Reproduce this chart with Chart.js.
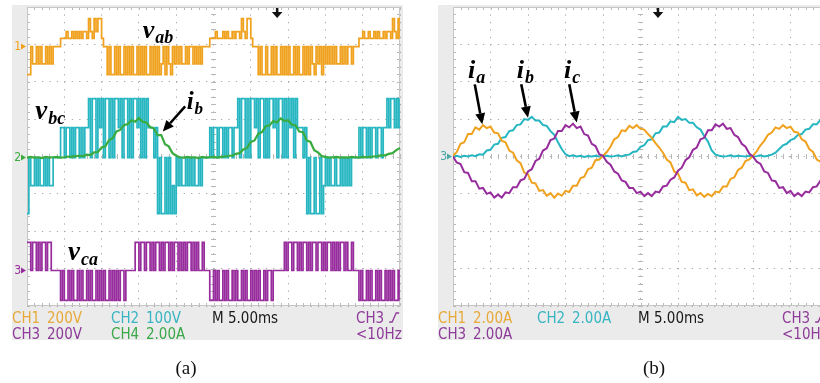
<!DOCTYPE html>
<html>
<head>
<meta charset="utf-8">
<script src="https://cdn.jsdelivr.net/npm/chart.js@4.4.1/dist/chart.umd.min.js"></script>
<style>
    html, body { margin: 0; padding: 0; background: #fff; overflow: hidden; }
    body { width: 820px; height: 383px; position: relative; }
    #scopeA { position: absolute; left: 0; top: 0; }
    #scopeB { position: absolute; left: 410px; top: 0; }
</style>
</head>
<body>
<canvas id="scopeA" width="410" height="383"></canvas>
<canvas id="scopeB" width="430" height="383"></canvas>
<script>
// time axis: 10 div x 5 ms, vertical: 8 div
const msPerDiv = 5;
const pwmStepMs = 0.25;
const traceStepMs = 0.5;

// (a) PWM line voltages, one level code per 0.25 ms sample
const vabCodes = [
    -2,-2,0,-1,-1,0,-1,0,-1,-1,0,-1,0,-1,0,0, 0,0,
    1,1,1,2,1,1,2,1,2,1,2,1,2,2,1,3,2,1,3,2,3,3,1, 0,0,
    -2,0,-2,-2,0,-2,0,-2,-2,0,-2,0,-2,0,-2,-2,0,-2,0,-2,0,-2,-2,0,-2,0,-2,0,-2,-1,0,-2,0,-1,-2,0,-1,
    0,-1,0,-1,-1,0,-1,0,0,-1,0,-1,0,-1,0,0, 0,0,
    1,1,1,2,1,1,1,2,1,2,1,1,2,1,2,2,1,3,2,1,3,3,1, 0,0,0,
    -2,0,-2,-2,0,-2,-2,0,-2,0,-2,-2,0,-2,0,-2,0,-2,-2,0,-2,0,-2,-2,0,-2,0,-2,0,-1,-2,0,-1,0,-2,0,-1,
    0,-1,0,-1,0,-1,-1,0,-1,0,-1,0,0,-1,0,0, 0,
    1,1,2,1,1,2,1,1,2,1,2,1,1,2,1,2,2,1,3,2,1,3,1
];
const vbcCodes = [
    -2,0,-1,-1,0,-1,0,-1,-1,0,-1,0,-1,-1,0,0, 0,0,
    1,1,0,1,1,0,1,0,1,1,0,1,0,1,1,
    2,0,2,2,0,2,1,2,0,2,2,0,2,0,2,2,1,2,0,2,2,0,2,0,2,2,1,2,0,2,0,2,1,1, 1,0,1,
    -2,0,-2,-2,0,-2,0,-2,-1,-2,0,
    -1,0,-1,-1,0,-1,0,-1,0,-1,-1,0,-1,0,0, 0,0,
    1,0,1,1,0,1,1,0,1,0,1,1,0,1,1,
    2,0,2,2,0,2,0,2,2,1,2,0,2,2,0,2,0,2,2,1,2,0,2,2,0,2,0,2,1,2,0,2,1,1, 1,0,1,
    -2,0,-2,-2,0,-2,-2,0,-2,-1,0,
    -1,0,-1,-1,0,-1,-1,0,-1,0,-1,0,-1,0,0, 0,0,
    1,0,1,1,0,1,0,1,1,0,1,1,0,1,1,
    2,1,2,2,1,2,1,2
];
const vcaCodes = [
    1,1,0,1,1,0,1,0,1,1,0,1,1,0,0,0, 0,0,
    -1,0,-1,-1,0,-1,0,-1,-1,0,-1,0,-1,-1,0,-1,0,-1,-1,0,-1,0,-1,0,-1,-1,0,-1,0,-1,0,-1,0,0,-1,0, 0,0,0,0,
    1,1,0,1,1,0,1,1,0,1,0,1,1,0,1,0,1,1,0,1,0,1,1,0,1,0,1,0,1,1,0,1,0,1,0,0,1,0, 0,0,
    -1,-1,0,-1,0,-1,-1,0,-1,0,-1,-1,0,-1,0,-1,-1,0,-1,0,-1,-1,0,-1,0,-1,0,-1,-1,0,-1,0,0,-1,0,0, 0,0,0,0,
    1,0,1,1,0,1,1,0,1,0,1,1,0,1,0,1,1,0,1,1,0,1,0,1,1,0,1,0,1,0,1,1,0,1,0,0,1,0, 0,0,
    -1,0,-1,-1,0,-1,0,-1,-1,0,-1,0,-1,-1,0,-1,0,-1,0,-1,-1,0,-1
];
// level of each code, divisions above channel ground
const vabLevels = {'-2': -0.75, '-1': -0.46, '0': 0, '1': 0.22, '2': 0.4, '3': 0.75};
const vbcLevels = {'-2': -1.5, '-1': -0.75, '0': 0, '1': 0.8, '2': 1.58};
const vcaLevels = {'-1': -0.8, '0': 0, '1': 0.75};

// (a) phase-b current, div, every 0.5 ms
const ibA = [
    0,0.02,0,0.01,-0.01,0.02,0,0.01,0.02,0,0.01,0.03,0.02,0.04,
    0.05,0.04,0.08,0.07,0.14,0.15,0.27,0.3,0.47,0.52,0.7,0.74,0.87,0.9,1.0,0.96,
    1.06,0.96,0.94,0.82,0.78,0.6,0.6,0.36,0.3,0.12,0.05,
    0.01,0,0.02,0,0.01,-0.01,0.02,0,0.01,0.02,0,0.02,0.03,
    0.05,0.05,0.1,0.12,0.22,0.26,0.42,0.46,0.64,0.68,0.84,0.86,0.98,0.94,1.05,0.98,
    1.0,0.88,0.86,0.7,0.68,0.46,0.42,0.2,0.14,0.04,0.02,
    0,0.01,0.02,0,0.01,0,0.02,0.01,0,0.02,0.01,0.02,0.03,
    0.04,0.06,0.06,0.1,0.12,0.2,0.26
];

// (b) phase currents, div, every 0.5 ms
const iaB = [
    0.02,0.12,0.34,0.38,0.6,0.6,0.78,0.72,0.84,0.76,0.8,0.64,0.62,0.42,0.38,0.16,0.1,
    -0.1,-0.18,-0.43,-0.48,-0.7,-0.72,-0.92,-0.9,-1.05,-0.98,-1.1,-0.99,-1.05,-0.92,-0.95,
    -0.78,-0.78,-0.58,-0.54,-0.34,-0.3,-0.1,-0.08,0.02,
    0.12,0.26,0.46,0.52,0.7,0.68,0.82,0.76,0.84,0.74,0.72,0.6,0.5,0.36,0.24,0.1,
    -0.08,-0.16,-0.4,-0.46,-0.68,-0.7,-0.9,-0.88,-1.04,-0.98,-1.08,-1.0,-1.06,-0.94,-0.96,
    -0.8,-0.8,-0.6,-0.56,-0.36,-0.3,-0.12,-0.08,0.02,
    0.14,0.3,0.42,0.58,0.64,0.78,0.74,0.84,0.76,0.8,0.66,0.64,0.46,0.4,0.2,0.12,
    -0.08,-0.14,-0.38,-0.44
];
const ibB = [
    0,0.02,-0.01,0.02,0,0.03,0.01,0.06,0.05,0.16,0.18,0.32,0.34,0.5,0.52,0.68,0.7,
    0.84,0.86,1.0,0.98,1.06,0.96,0.96,0.84,0.82,0.68,0.58,0.38,0.2,0.06,
    0.01,0.03,0,0.02,-0.01,0.01,0,0.02,0,0.01,
    0.02,0,0.01,0.03,0,0.04,0.05,0.12,0.14,0.26,0.3,0.44,0.46,0.62,0.64,0.8,0.8,
    0.94,0.92,1.06,0.98,1.0,0.9,0.9,0.78,0.72,0.54,0.4,0.16,0.05,
    0.02,0,0.01,0.03,0,0.02,0.01,0,0.02,0,
    0.01,0.03,0,0.02,0.05,0.1,0.2,0.3,0.34,0.44,0.48,0.58,0.6,0.72,0.74,0.86,0.86,
    0.98,0.96,1.04
];
const icB = [
    0,-0.16,-0.2,-0.42,-0.44,-0.66,-0.66,-0.86,-0.84,-1.0,-0.96,-1.1,-1.02,-1.1,-0.96,-0.98,
    -0.82,-0.82,-0.64,-0.6,-0.4,-0.34,-0.12,-0.06,0.16,0.22,0.44,0.48,0.68,0.68,
    0.84,0.78,0.88,0.76,0.8,0.6,0.56,0.34,0.28,0.06,0.02,
    -0.14,-0.22,-0.4,-0.46,-0.64,-0.68,-0.84,-0.84,-0.98,-0.94,-1.06,-0.98,-1.06,-0.94,-0.96,
    -0.8,-0.78,-0.62,-0.56,-0.38,-0.3,-0.1,-0.02,0.18,0.24,0.46,0.5,0.7,0.7,
    0.86,0.8,0.88,0.74,0.76,0.58,0.52,0.34,0.26,0.08,0,
    -0.14,-0.2,-0.4,-0.44,-0.64,-0.66,-0.84,-0.82,-0.98,-0.92,-1.06,-0.98,-1.06,-0.94,-0.96,
    -0.82,-0.8,-0.64,-0.58,-0.42
];

// channel ground markers (div)
const groundA = {ch1: 2.94, ch2: -0.03, ch3: -3.05};
const groundB = {ch3: 0};
const triggerA = 33.5;
const triggerB = 27.3;

const orange = '#f0a11e';
const cyan = '#26b6c1';
const green = '#3aab3f';
const magenta = '#972c9d';

function toPoints(values, step, ground, levels) {
    return values.map((v, i) => ({x: i * step, y: ground + (levels ? levels[v] : v)}));
}

function trace(points, color, width, stepped) {
    return {
        data: points,
        borderColor: color,
        borderWidth: width,
        pointRadius: 0,
        stepped: stepped ? 'before' : false,
        tension: 0
    };
}

function drawArrow(ctx, x1, y1, x2, y2) {
    const ang = Math.atan2(y2 - y1, x2 - x1);
    const len = 11;
    const bx = x2 - len * Math.cos(ang), by = y2 - len * Math.sin(ang);
    ctx.lineWidth = 2.6;
    ctx.beginPath();
    ctx.moveTo(x1, y1);
    ctx.lineTo(bx, by);
    ctx.stroke();
    ctx.beginPath();
    ctx.moveTo(x2, y2);
    ctx.lineTo(bx + 5 * Math.sin(ang), by - 5 * Math.cos(ang));
    ctx.lineTo(bx - 5 * Math.sin(ang), by + 5 * Math.cos(ang));
    ctx.closePath();
    ctx.fill();
}

const narrow = '"Liberation Sans Narrow", "DejaVu Sans Condensed", "Roboto", sans-serif';
const serif = '"Liberation Serif", "DejaVu Serif", serif';

const scopeScreen = {
    id: 'scopeScreen',
    beforeDraw(chart) {
        const {ctx, chartArea: a} = chart;
        ctx.save();
        ctx.fillStyle = '#ebebeb';
        ctx.fillRect(a.left - 15, a.top - 2, a.width + 18, a.height + 36);
        ctx.fillStyle = '#ffffff';
        ctx.fillRect(a.left, a.top, a.width, a.height);
        ctx.restore();
    },
    beforeDatasetsDraw(chart) {
        const {ctx, chartArea: a, scales: {x, y}} = chart;
        ctx.save();
        ctx.strokeStyle = '#b8b8b8';
        ctx.lineWidth = 1;
        const xc = x.getPixelForValue(5 * msPerDiv);
        const yc = y.getPixelForValue(0);
        ctx.beginPath();
        for (let k = 0; k <= 50; k++) {
            const px = Math.round(x.getPixelForValue(k * msPerDiv / 5)) + 0.5;
            ctx.moveTo(px, yc - 2.5); ctx.lineTo(px, yc + 2.5);
            ctx.moveTo(px, a.top); ctx.lineTo(px, a.top + 3);
            ctx.moveTo(px, a.bottom); ctx.lineTo(px, a.bottom - 3);
        }
        for (let k = 0; k <= 40; k++) {
            const py = Math.round(y.getPixelForValue(-4 + k * 0.2)) + 0.5;
            ctx.moveTo(xc - 2.5, py); ctx.lineTo(xc + 2.5, py);
            ctx.moveTo(a.left, py); ctx.lineTo(a.left + 3, py);
            ctx.moveTo(a.right, py); ctx.lineTo(a.right - 3, py);
        }
        ctx.stroke();
        ctx.strokeStyle = '#c6c6c6';
        ctx.strokeRect(Math.round(a.left) + 0.5, Math.round(a.top) + 0.5, Math.round(a.width) - 1, Math.round(a.height) - 1);
        ctx.restore();
    },
    afterDraw(chart, args, opts) {
        const {ctx, chartArea: a, scales: {x, y}} = chart;
        ctx.save();

        // ground markers
        opts.markers.forEach(m => {
            const py = y.getPixelForValue(m.at);
            ctx.fillStyle = m.color;
            ctx.font = '12px ' + narrow;
            ctx.textAlign = 'right';
            ctx.textBaseline = 'middle';
            ctx.fillText(m.text, a.left - 6, py);
            ctx.beginPath();
            ctx.moveTo(a.left - 6, py - 3);
            ctx.lineTo(a.left - 1, py);
            ctx.lineTo(a.left - 6, py + 3);
            ctx.closePath();
            ctx.fill();
        });

        // trigger position
        const tx = x.getPixelForValue(opts.trigger);
        ctx.fillStyle = '#111';
        ctx.fillRect(tx - 1, a.top + 1, 2.5, 5);
        ctx.beginPath();
        ctx.moveTo(tx - 5, a.top + 5);
        ctx.lineTo(tx + 5.5, a.top + 5);
        ctx.lineTo(tx + 0.25, a.top + 11);
        ctx.closePath();
        ctx.fill();

        // readout under the screen
        ctx.textAlign = 'left';
        ctx.textBaseline = 'alphabetic';
        ctx.font = '15px ' + narrow;
        opts.readout.forEach(r => {
            const px = a.left + r.dx;
            const py = a.bottom + (r.row ? 33 : 17);
            ctx.fillStyle = r.color;
            ctx.fillText(r.text, px, py);
            if (r.slope) {
                const w = ctx.measureText(r.text).width + 5;
                ctx.strokeStyle = r.color;
                ctx.lineWidth = 1.3;
                ctx.beginPath();
                ctx.moveTo(px + w, py - 1);
                ctx.lineTo(px + w + 3, py - 1);
                ctx.lineTo(px + w + 7, py - 10);
                ctx.lineTo(px + w + 10, py - 10);
                ctx.stroke();
            }
        });

        // trace names
        ctx.fillStyle = '#000';
        ctx.strokeStyle = '#000';
        opts.names.forEach(n => {
            const px = x.getPixelForValue(n.t);
            const py = y.getPixelForValue(n.v);
            ctx.font = 'bold italic ' + n.size + 'px ' + serif;
            ctx.fillText(n.main, px, py);
            const w = ctx.measureText(n.main).width;
            ctx.font = 'bold italic ' + Math.round(n.size * 0.68) + 'px ' + serif;
            ctx.fillText(n.sub, px + w + 1, py + 5);
        });
        opts.arrows.forEach(r => {
            drawArrow(ctx, x.getPixelForValue(r[0]), y.getPixelForValue(r[1]), x.getPixelForValue(r[2]), y.getPixelForValue(r[3]));
        });

        // caption
        ctx.fillStyle = '#111';
        ctx.font = '19px ' + serif;
        ctx.textAlign = 'center';
        ctx.fillText(opts.caption, opts.captionX, 374);
        ctx.restore();
    }
};

function scopeOptions(padLeft, padRight, decor) {
    return {
        responsive: false,
        animation: false,
        events: [],
        layout: {padding: {left: padLeft, right: padRight, top: 7, bottom: 77}},
        scales: {
            x: {
                type: 'linear', min: 0, max: 10 * msPerDiv,
                ticks: {display: false, stepSize: msPerDiv},
                grid: {color: '#a9a9a9', lineWidth: 1, drawTicks: false},
                border: {display: false, dash: [1.3, 6.16]}
            },
            y: {
                type: 'linear', min: -4, max: 4,
                ticks: {display: false, stepSize: 1},
                grid: {color: '#a9a9a9', lineWidth: 1, drawTicks: false},
                border: {display: false, dash: [1.3, 6.16]}
            }
        },
        plugins: {legend: {display: false}, tooltip: {enabled: false}, scopeScreen: decor}
    };
}

const readoutRows = (ch1, ch2, ch3, ch4) => [
    {text: 'CH1', color: ch1.color, dx: -15, row: 0},
    {text: ch1.scale, color: ch1.color, dx: 20, row: 0},
    {text: 'CH2', color: ch2.color, dx: 84, row: 0},
    {text: ch2.scale, color: ch2.color, dx: 119, row: 0},
    {text: 'M 5.00ms', color: '#1a1a1a', dx: 185, row: 0},
    {text: 'CH3', color: ch3.color, dx: 329, row: 0, slope: true},
    {text: 'CH3', color: ch3.color, dx: -15, row: 1},
    {text: ch3.scale, color: ch3.color, dx: 20, row: 1},
    ...(ch4 ? [{text: 'CH4', color: ch4.color, dx: 84, row: 1}, {text: ch4.scale, color: ch4.color, dx: 119, row: 1}] : []),
    {text: '<10Hz', color: ch3.color, dx: 329, row: 1}
];

new Chart(document.getElementById('scopeA'), {
    type: 'line',
    data: {
        datasets: [
            trace(toPoints(ibA, traceStepMs, groundA.ch2, null), green, 2.2, false),
            trace(toPoints(vabCodes, pwmStepMs, groundA.ch1, vabLevels), orange, 1.7, true),
            trace(toPoints(vbcCodes, pwmStepMs, groundA.ch2, vbcLevels), cyan, 1.7, true),
            trace(toPoints(vcaCodes, pwmStepMs, groundA.ch3, vcaLevels), magenta, 1.7, true)
        ]
    },
    options: scopeOptions(27, 10, {
        markers: [
            {text: '1', at: groundA.ch1, color: orange},
            {text: '2', at: groundA.ch2, color: green},
            {text: '3', at: groundA.ch3, color: magenta}
        ],
        trigger: triggerA,
        readout: readoutRows(
            {color: '#e8a93a', scale: '200V'},
            {color: '#38b5c3', scale: '100V'},
            {color: '#8e3b99', scale: '200V'},
            {color: '#3ba84a', scale: '2.00A'}
        ),
        names: [
            {main: 'v', sub: 'ab', t: 15.5, v: 3.16, size: 26},
            {main: 'v', sub: 'bc', t: 1.1, v: 0.99, size: 27},
            {main: 'i', sub: 'b', t: 21.4, v: 1.28, size: 25},
            {main: 'v', sub: 'ca', t: 5.5, v: -2.78, size: 27}
        ],
        arrows: [[21.2, 1.34, 18.2, 0.67]],
        caption: '(a)',
        captionX: 186
    }),
    plugins: [scopeScreen]
});

new Chart(document.getElementById('scopeB'), {
    type: 'line',
    data: {
        datasets: [
            trace(toPoints(icB, traceStepMs, groundB.ch3, null), magenta, 2, false),
            trace(toPoints(iaB, traceStepMs, groundB.ch3, null), orange, 2, false),
            trace(toPoints(ibB, traceStepMs, groundB.ch3, null), cyan, 2, false)
        ]
    },
    options: scopeOptions(43, 12, {
        markers: [{text: '3', at: groundB.ch3, color: '#4aa6a6'}],
        trigger: triggerB,
        readout: readoutRows(
            {color: '#e8a93a', scale: '2.00A'},
            {color: '#38b5c3', scale: '2.00A'},
            {color: '#8e3b99', scale: '2.00A'},
            null
        ),
        names: [
            {main: 'i', sub: 'a', t: 2.0, v: 2.09, size: 26},
            {main: 'i', sub: 'b', t: 8.5, v: 2.09, size: 26},
            {main: 'i', sub: 'c', t: 14.8, v: 2.09, size: 26}
        ],
        arrows: [[2.9, 1.93, 3.9, 0.86], [9.1, 1.93, 10.0, 1.04], [15.5, 1.93, 16.5, 0.91]],
        caption: '(b)',
        captionX: 244
    }),
    plugins: [scopeScreen]
});
</script>
</body>
</html>
